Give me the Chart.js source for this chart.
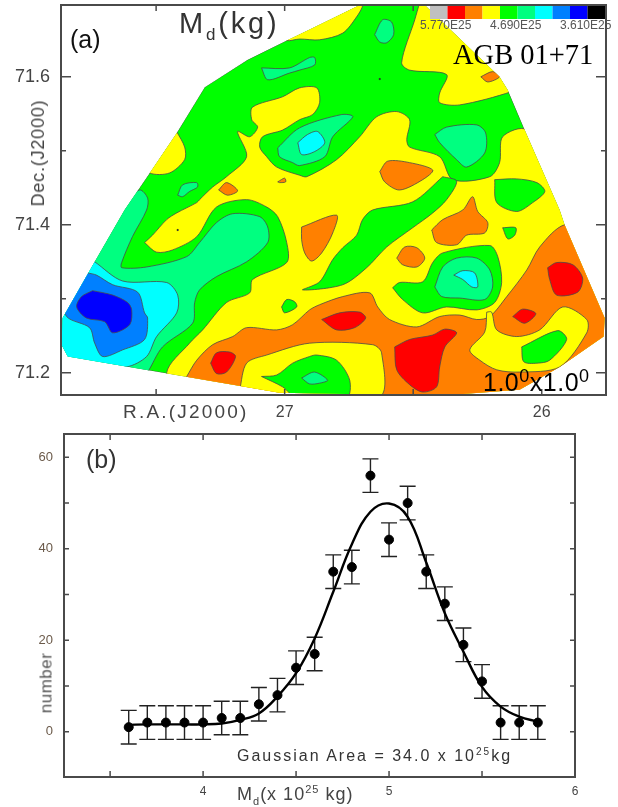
<!DOCTYPE html>
<html>
<head>
<meta charset="utf-8">
<script src="https://cdn.jsdelivr.net/npm/chart.js@4"></script>
<style>
  html, body { margin: 0; padding: 0; background: #fff; }
  #page { position: relative; width: 618px; height: 807px; overflow: hidden; font-family: "Liberation Sans", Arial, sans-serif; color: #444; }
  canvas { position: absolute; left: 0; }
  .t { position: absolute; white-space: nowrap; line-height: 1; }
  sub, sup { line-height: 0; }
</style>
</head>
<body>
<div id="page">
  <canvas id="mapChart" width="618" height="425" style="top:0"></canvas>
  <canvas id="histChart" width="618" height="382" style="top:425px"></canvas>

  <div class="t" style="left:70px;top:27px;font-size:25px;color:#111">(a)</div>
  <div class="t" style="left:179px;top:9px;font-size:29px;letter-spacing:2.8px;color:#333">M<sub style="font-size:17px">d</sub>(kg)</div>
  <div class="t" style="left:453px;top:41px;font-family:'Liberation Serif',serif;font-size:28.5px;color:#000">AGB 01+71</div>
  <div class="t" style="left:420px;top:19px;font-size:12px;color:#555">5.770E25</div>
  <div class="t" style="left:490px;top:19px;font-size:12px;color:#555">4.690E25</div>
  <div class="t" style="left:560px;top:19px;font-size:12px;color:#555">3.610E25</div>
  <div class="t" style="left:483px;top:370px;font-size:25px;letter-spacing:.5px;color:#000">1.0<sup style="font-size:18px;vertical-align:9px">0</sup>x1.0<sup style="font-size:18px;vertical-align:9px">0</sup></div>
  <div class="t" style="left:123px;top:402px;font-size:19px;letter-spacing:2.2px;color:#444">R.A.(J2000)</div>
  <div class="t" style="left:38px;top:153px;font-size:18px;letter-spacing:.8px;color:#444;transform:translate(-50%,-50%) rotate(-90deg)">Dec.(J2000)</div>

  <div class="t" style="left:86px;top:447px;font-size:25px;color:#333">(b)</div>
  <div class="t" style="left:46px;top:683px;font-size:17px;letter-spacing:.5px;color:#555;transform:translate(-50%,-50%) rotate(-90deg)">number</div>
  <div class="t" style="left:237px;top:748px;font-size:16px;letter-spacing:2px;color:#333">Gaussian Area = 34.0 x 10<sup style="font-size:10px">25</sup>kg</div>
  <div class="t" style="left:237px;top:785px;font-size:18px;letter-spacing:1px;color:#444">M<sub style="font-size:11px">d</sub>(x 10<sup style="font-size:11px">25</sup> kg)</div>
</div>

<script>
// (a) contour map, every outline is [R.A., Dec.]
const mapEdge = [[27.844,71.222],[27.868,71.238],[27.864,71.274],[27.739,71.350],[27.623,71.420],[27.525,71.470],[27.420,71.524],[27.311,71.586],[27.144,71.623],[26.992,71.649],[26.903,71.664],[26.708,71.697],[26.455,71.697],[26.164,71.600],[26.132,71.582],[26.066,71.528],[25.930,71.420],[25.911,71.400],[25.755,71.274],[25.759,71.249],[25.930,71.208],[26.086,71.177],[26.397,71.169],[27.020,71.173]];

const springLeft = [[27.642,71.427],[27.564,71.447],[27.533,71.436],[27.537,71.420],[27.592,71.384],[27.634,71.349],[27.634,71.342],[27.537,71.343],[27.381,71.357],[27.331,71.376],[27.265,71.403],[27.202,71.415],[27.097,71.411],[27.066,71.397],[27.066,71.376],[27.148,71.350],[27.265,71.330],[27.331,71.312],[27.350,71.295],[27.358,71.267],[27.475,71.235],[27.533,71.201],[27.564,71.190],[27.895,71.217],[27.895,71.380]];
const cyanLeft = [[27.778,71.359],[27.739,71.350],[27.630,71.324],[27.459,71.322],[27.416,71.305],[27.420,71.281],[27.498,71.249],[27.537,71.222],[27.615,71.208],[27.876,71.204],[27.914,71.245]];
const blueLeft = [[27.767,71.335],[27.732,71.332],[27.669,71.319],[27.572,71.309],[27.545,71.281],[27.533,71.274],[27.545,71.245],[27.630,71.231],[27.708,71.222],[27.739,71.240],[27.759,71.261],[27.848,71.276],[27.876,71.312]];
const navyLeft = [[27.747,71.311],[27.669,71.305],[27.611,71.295],[27.595,71.285],[27.603,71.265],[27.669,71.254],[27.700,71.269],[27.771,71.274],[27.809,71.289],[27.790,71.303]];

const yellowBig = [[27.545,71.376],[27.514,71.386],[27.459,71.407],[27.420,71.416],[27.342,71.430],[27.331,71.434],[27.280,71.451],[27.226,71.465],[27.148,71.492],[27.183,71.526],[27.136,71.519],[27.105,71.532],[27.128,71.542],[27.125,71.559],[27.008,71.573],[26.942,71.585],[26.875,71.585],[26.864,71.565],[26.891,71.549],[26.942,71.542],[27.008,71.528],[27.086,71.519],[27.097,71.505],[27.070,71.492],[27.031,71.478],[26.942,71.467],[26.914,71.465],[26.798,71.488],[26.708,71.519],[26.642,71.546],[26.564,71.553],[26.514,71.542],[26.525,71.515],[26.514,71.505],[26.397,71.492],[26.346,71.461],[26.202,71.465],[26.164,71.484],[26.152,71.519],[26.058,71.528],[25.774,71.393],[25.774,71.136],[27.409,71.136],[27.459,71.200],[27.370,71.240],[27.319,71.258],[27.226,71.295],[27.136,71.308],[27.125,71.326],[26.992,71.349],[26.992,71.376],[27.027,71.411],[27.070,71.424],[27.148,71.434],[27.265,71.424],[27.342,71.384],[27.436,71.366],[27.498,71.363]];
const yellowTop = [[27.000,71.657],[26.708,71.704],[26.696,71.697],[26.720,71.681],[26.774,71.659],[26.864,71.650],[26.942,71.651],[26.992,71.649]];
const yellowRight = [[26.475,71.700],[26.494,71.677],[26.545,71.619],[26.514,71.609],[26.370,71.603],[26.397,71.578],[26.397,71.565],[26.319,71.562],[26.117,71.580],[26.086,71.589],[26.397,71.704]];
const yellowEdge = [[27.420,71.526],[27.389,71.505],[27.389,71.488],[27.448,71.470],[27.525,71.470],[27.564,71.488]];

const orangeBig = [[27.381,71.195],[27.342,71.217],[27.280,71.238],[27.202,71.249],[27.148,71.261],[27.031,71.258],[26.969,71.265],[26.903,71.285],[26.864,71.292],[26.774,71.303],[26.669,71.308],[26.638,71.289],[26.592,71.272],[26.486,71.262],[26.397,71.276],[26.319,71.278],[26.253,71.272],[26.202,71.276],[26.136,71.303],[26.058,71.339],[26.008,71.370],[25.911,71.400],[25.697,71.400],[25.697,71.163],[27.381,71.163]];
const yellowLobe = [[26.214,71.282],[26.195,71.282],[26.175,71.258],[26.097,71.249],[26.008,71.258],[25.918,71.289],[25.825,71.272],[25.825,71.254],[25.930,71.208],[26.086,71.201],[26.175,71.204],[26.241,71.217],[26.280,71.231],[26.222,71.255]];
const yellowBottom = [[27.175,71.177],[27.148,71.213],[27.070,71.224],[26.903,71.240],[26.658,71.238],[26.623,71.227],[26.630,71.168],[27.020,71.168]];

const greenRibbon = [[26.385,71.465],[26.331,71.459],[26.370,71.434],[26.424,71.416],[26.502,71.396],[26.603,71.370],[26.681,71.342],[26.774,71.319],[26.930,71.312],[26.864,71.323],[26.813,71.353],[26.774,71.369],[26.720,71.386],[26.697,71.407],[26.658,71.420],[26.502,71.431]];
const greenBottom = [[27.090,71.195],[27.031,71.197],[26.969,71.213],[26.903,71.222],[26.875,71.224],[26.798,71.217],[26.747,71.190],[26.759,71.166],[26.953,71.166],[27.008,71.181]];
const greenLobe = [[26.078,71.235],[25.938,71.257],[25.903,71.245],[25.969,71.217],[26.019,71.213],[26.070,71.215]];
const greenRight = [[26.183,71.461],[26.097,71.462],[26.019,71.457],[25.988,71.445],[26.035,71.430],[26.097,71.418],[26.175,71.430]];
const greenSmallA = [[26.152,71.396],[26.101,71.396],[26.105,71.386],[26.132,71.381]];
const greenSmallB = [[27.012,71.289],[26.992,71.299],[26.961,71.296],[26.953,71.289],[27.000,71.281]];
const greenMid = [[26.580,71.315],[26.553,71.322],[26.463,71.323],[26.424,71.349],[26.385,71.362],[26.202,71.372],[26.171,71.357],[26.156,71.322],[26.183,71.295],[26.253,71.285],[26.370,71.289],[26.463,71.281],[26.541,71.299]];

const orangeA = [[26.934,71.397],[26.798,71.413],[26.813,71.389],[26.856,71.362],[26.895,71.351],[26.922,71.362],[26.934,71.380]];
const orangeB = [[26.564,71.355],[26.533,71.370],[26.486,71.369],[26.455,71.355],[26.486,71.343],[26.541,71.346]];
const orangeC = [[26.428,71.393],[26.385,71.407],[26.307,71.420],[26.269,71.438],[26.249,71.418],[26.210,71.403],[26.222,71.389],[26.292,71.386],[26.331,71.373],[26.409,71.376]];
const orangeD = [[26.630,71.472],[26.599,71.486],[26.514,71.484],[26.424,71.474],[26.463,71.461],[26.553,71.447],[26.611,71.458]];
const orangeE = [[26.237,71.600],[26.191,71.607],[26.164,71.600],[26.210,71.593]];
const orangeF = [[27.257,71.447],[27.226,71.457],[27.183,71.446],[27.222,71.440]];
const orangeG = [[27.027,71.458],[27.000,71.463],[26.996,71.458],[27.020,71.457]];

const redA = [[27.288,71.213],[27.265,71.227],[27.214,71.228],[27.191,71.222],[27.226,71.201],[27.265,71.199]];
const redB = [[26.856,71.272],[26.786,71.281],[26.708,71.282],[26.685,71.274],[26.728,71.261],[26.798,71.258]];
const redC = [[26.572,71.235],[26.514,71.245],[26.424,71.251],[26.377,71.259],[26.331,71.254],[26.377,71.235],[26.397,71.208],[26.409,71.181],[26.463,71.174],[26.514,71.184],[26.564,71.204]];
const redD = [[25.977,71.342],[25.942,71.349],[25.879,71.346],[25.841,71.328],[25.860,71.309],[25.942,71.305],[25.969,71.326]];
const redE = [[26.113,71.276],[26.074,71.286],[26.023,71.280],[26.066,71.267]];

const springA = [[26.650,71.657],[26.619,71.677],[26.584,71.674],[26.576,71.657],[26.603,71.646],[26.630,71.647]];
const springB = [[27.090,71.612],[26.981,71.612],[26.903,71.626],[26.883,71.626],[26.883,71.616],[26.942,71.609],[26.981,71.605],[27.066,71.596]];
const springC = [[26.416,71.522],[26.370,71.532],[26.253,71.535],[26.218,71.524],[26.222,71.497],[26.292,71.478],[26.331,71.488],[26.397,71.511]];
const springD = [[27.027,71.504],[26.942,71.531],[26.778,71.549],[26.735,71.546],[26.813,71.519],[26.844,71.492],[26.942,71.480],[26.969,71.484],[27.020,71.492]];
const springE = [[27.416,71.440],[27.397,71.454],[27.342,71.457],[27.339,71.451],[27.370,71.445],[27.397,71.438]];
const springMid = [[26.416,71.316],[26.385,71.343],[26.331,71.355],[26.253,71.355],[26.202,71.339],[26.191,71.316],[26.222,71.299],[26.319,71.301],[26.389,71.303]];
const springBottom = [[26.934,71.193],[26.884,71.201],[26.833,71.190],[26.864,71.186],[26.903,71.185]];
const cyanTop = [[26.949,71.511],[26.911,71.522],[26.872,71.526],[26.844,71.511],[26.883,71.499],[26.934,71.495]];
const cyanMid = [[26.342,71.332],[26.307,71.338],[26.261,71.335],[26.249,71.316],[26.272,71.316],[26.307,71.326]];
const specks = [[27.416,71.393],[26.630,71.597]];

const levelColors = ['#c0c0c0', '#ff0000', '#ff8000', '#ffff00', '#00ff00', '#00ff80', '#00ffff', '#0080ff', '#0000ff', '#000000'];
const RED = 1, ORANGE = 2, YELLOW = 3, GREEN = 4, SPRING = 5, CYAN = 6, BLUE = 7, NAVY = 8;

// painted back to front
const contours = [
  [mapEdge, GREEN],
  [springLeft, SPRING], [cyanLeft, CYAN], [blueLeft, BLUE], [navyLeft, NAVY],
  [yellowBig, YELLOW], [yellowTop, YELLOW], [yellowRight, YELLOW], [yellowEdge, YELLOW],
  [orangeBig, ORANGE], [yellowLobe, YELLOW], [yellowBottom, YELLOW],
  [greenRibbon, GREEN], [greenBottom, GREEN], [greenLobe, GREEN], [greenRight, GREEN], [greenSmallA, GREEN], [greenSmallB, GREEN], [greenMid, GREEN],
  [orangeA, ORANGE], [orangeB, ORANGE], [orangeC, ORANGE], [orangeD, ORANGE], [orangeE, ORANGE], [orangeF, ORANGE], [orangeG, ORANGE],
  [redA, RED], [redB, RED], [redC, RED], [redD, RED], [redE, RED],
  [springA, SPRING], [springB, SPRING], [springC, SPRING], [springD, SPRING], [springE, SPRING], [springMid, SPRING], [springBottom, SPRING],
  [cyanTop, CYAN], [cyanMid, CYAN]
];

const raTicks = [26, 26.5, 27, 27.5];
const raLabels = [26, 27];
const decTicks = [71.2, 71.3, 71.4, 71.5, 71.6];
const decLabels = [71.2, 71.4, 71.6];

// (b) histogram of M_d with its fit
const massBins = [3.6, 3.7, 3.8, 3.9, 4.0, 4.1, 4.2, 4.3, 4.4, 4.5, 4.6, 4.7, 4.8, 4.9, 5.0, 5.1, 5.2, 5.3, 5.4, 5.5, 5.6, 5.7, 5.8];
const counts = [1, 2, 2, 2, 2, 3, 3, 6, 8, 14, 17, 35, 36, 56, 42, 50, 35, 28, 19, 11, 2, 2, 2];
const countErr = [3.67, 3.67, 3.67, 3.67, 3.67, 3.67, 3.67, 3.67, 3.67, 3.67, 3.67, 3.67, 3.67, 3.67, 3.67, 3.67, 3.67, 3.67, 3.67, 3.67, 3.67, 3.67, 3.67];
const fitCounts = [1.5, 1.6, 1.6, 1.6, 1.6, 1.8, 2.6, 4.0, 7.7, 12.8, 20.4, 30.6, 41.0, 48.1, 49.9, 47.0, 37.0, 25.9, 17.5, 9.8, 5.5, 3.3, 2.2];
const massTicks = [3.5, 4, 4.5, 5, 5.5];
const massLabels = [4, 5, 6];
const countTicks = [0, 10, 20, 30, 40, 50, 60];
const countLabels = [0, 20, 40, 60];

const toXY = pts => pts.map(p => ({ x: p[0], y: p[1] }));

function outline(pts, color, tension) {
  const closed = toXY(pts);
  closed.push(closed[0]);
  return {
    data: closed, showLine: true, fill: 'shape', tension: tension,
    backgroundColor: color, borderColor: '#4a4a4a', borderWidth: 0.8, pointRadius: 0
  };
}

function setTicks(values) {
  return scale => { scale.ticks = values.map(v => ({ value: v })); };
}

// stops the label overhang from moving the plot area
function fixSize(prop, size) {
  return scale => {
    scale[prop] = size;
    scale.paddingTop = scale.paddingBottom = scale.paddingLeft = scale.paddingRight = 0;
  };
}

// frame and inward ticks on all four sides, like the original plot
function frameTicks(xTicks, yTicks, xMajor, yMajor) {
  return {
    id: 'frameTicks',
    afterDraw(chart) {
      const { ctx, chartArea: a, scales } = chart;
      ctx.save();
      ctx.strokeStyle = '#4a4a4a';
      ctx.lineWidth = 1.5;
      ctx.beginPath();
      xTicks.forEach(v => {
        const x = scales.x.getPixelForValue(v), len = xMajor.includes(v) ? 6 : 4;
        ctx.moveTo(x, a.bottom); ctx.lineTo(x, a.bottom - len);
        ctx.moveTo(x, a.top); ctx.lineTo(x, a.top + len);
      });
      yTicks.forEach(v => {
        const y = scales.y.getPixelForValue(v), len = yMajor.includes(v) ? 10 : 5;
        ctx.moveTo(a.left, y); ctx.lineTo(a.left + len, y);
        ctx.moveTo(a.right, y); ctx.lineTo(a.right - len, y);
      });
      ctx.stroke();
      ctx.lineWidth = 2;
      ctx.strokeRect(a.left, a.top, a.right - a.left, a.bottom - a.top);
      ctx.restore();
    }
  };
}

// contours may run past the survey edge, so clip them to it
const edgeClip = {
  id: 'edgeClip',
  beforeDatasetsDraw(chart) {
    const { ctx, scales } = chart;
    ctx.save();
    ctx.beginPath();
    mapEdge.forEach((p, i) => {
      const x = scales.x.getPixelForValue(p[0]), y = scales.y.getPixelForValue(p[1]);
      if (i === 0) ctx.moveTo(x, y); else ctx.lineTo(x, y);
    });
    ctx.closePath();
    ctx.clip();
  },
  afterDatasetsDraw(chart) {
    chart.ctx.restore();
  }
};

// color key sits in the top right corner of the frame
const colorKey = {
  id: 'colorKey',
  afterDraw(chart) {
    const ctx = chart.ctx, w = 17.5;
    levelColors.forEach((c, i) => {
      ctx.fillStyle = c;
      ctx.fillRect(430 + i * w, 6, w, 13);
    });
  }
};

const errorBars = {
  id: 'errorBars',
  beforeDatasetsDraw(chart) {
    const { ctx, scales } = chart;
    ctx.save();
    ctx.strokeStyle = '#222';
    ctx.lineWidth = 1.4;
    ctx.beginPath();
    massBins.forEach((m, i) => {
      const x = scales.x.getPixelForValue(m);
      const top = scales.y.getPixelForValue(counts[i] + countErr[i]);
      const bot = scales.y.getPixelForValue(counts[i] - countErr[i]);
      ctx.moveTo(x, top); ctx.lineTo(x, bot);
      ctx.moveTo(x - 8, top); ctx.lineTo(x + 8, top);
      ctx.moveTo(x - 8, bot); ctx.lineTo(x + 8, bot);
    });
    ctx.stroke();
    ctx.restore();
  }
};

const tickFont = { family: '"Liberation Sans", Arial, sans-serif' };

new Chart(document.getElementById('mapChart'), {
  type: 'scatter',
  data: {
    // Chart.js paints the first dataset last, so flip the list
    datasets: [{ data: toXY(specks), backgroundColor: '#333', pointRadius: 1 }]
      .concat(contours.map((c, i) => outline(c[0], levelColors[c[1]], i === 0 ? 0 : 0.3)).reverse())
  },
  options: {
    responsive: false,
    animation: false,
    events: [],
    layout: { padding: { top: 5, right: 12, left: 0, bottom: 0 } },
    plugins: { legend: { display: false }, tooltip: { enabled: false } },
    scales: {
      x: {
        type: 'linear', reverse: true, min: 25.75, max: 27.87,
        grid: { display: false, drawTicks: false }, border: { display: false },
        afterBuildTicks: setTicks(raLabels),
        afterFit: fixSize('height', 30),
        ticks: { padding: 8, color: '#444', maxRotation: 0, font: { ...tickFont, size: 16 } }
      },
      y: {
        type: 'linear', min: 71.17, max: 71.697,
        grid: { display: false, drawTicks: false }, border: { display: false },
        afterBuildTicks: setTicks(decLabels),
        afterFit: fixSize('width', 61),
        ticks: { padding: 11, color: '#444', font: { ...tickFont, size: 18 }, callback: v => v.toFixed(1) }
      }
    }
  },
  plugins: [edgeClip, frameTicks(raTicks, decTicks, raTicks, decLabels), colorKey]
});

new Chart(document.getElementById('histChart'), {
  type: 'scatter',
  data: {
    datasets: [
      {
        data: massBins.map((m, i) => ({ x: m, y: fitCounts[i] })), showLine: true, tension: 0.4,
        borderColor: '#000', borderWidth: 2.4, pointRadius: 0, order: 2
      },
      {
        data: massBins.map((m, i) => ({ x: m, y: counts[i] })),
        backgroundColor: '#000', borderColor: '#000', pointRadius: 4.5, order: 1
      }
    ]
  },
  options: {
    responsive: false,
    animation: false,
    events: [],
    layout: { padding: { top: 9, right: 43, left: 0, bottom: 0 } },
    plugins: { legend: { display: false }, tooltip: { enabled: false } },
    scales: {
      x: {
        type: 'linear', min: 3.252, max: 6,
        grid: { display: false, drawTicks: false }, border: { display: false },
        afterBuildTicks: setTicks(massLabels),
        afterFit: fixSize('height', 30),
        ticks: { padding: 7, color: '#444', maxRotation: 0, font: { ...tickFont, size: 12 } }
      },
      y: {
        type: 'linear', min: -9.9, max: 65.1,
        grid: { display: false, drawTicks: false }, border: { display: false },
        afterBuildTicks: setTicks(countLabels),
        afterFit: fixSize('width', 64),
        ticks: { padding: 11, color: '#6b5a4a', font: { ...tickFont, size: 13 } }
      }
    }
  },
  plugins: [errorBars, frameTicks(massTicks, countTicks, massTicks, [])]
});
</script>
</body>
</html>
